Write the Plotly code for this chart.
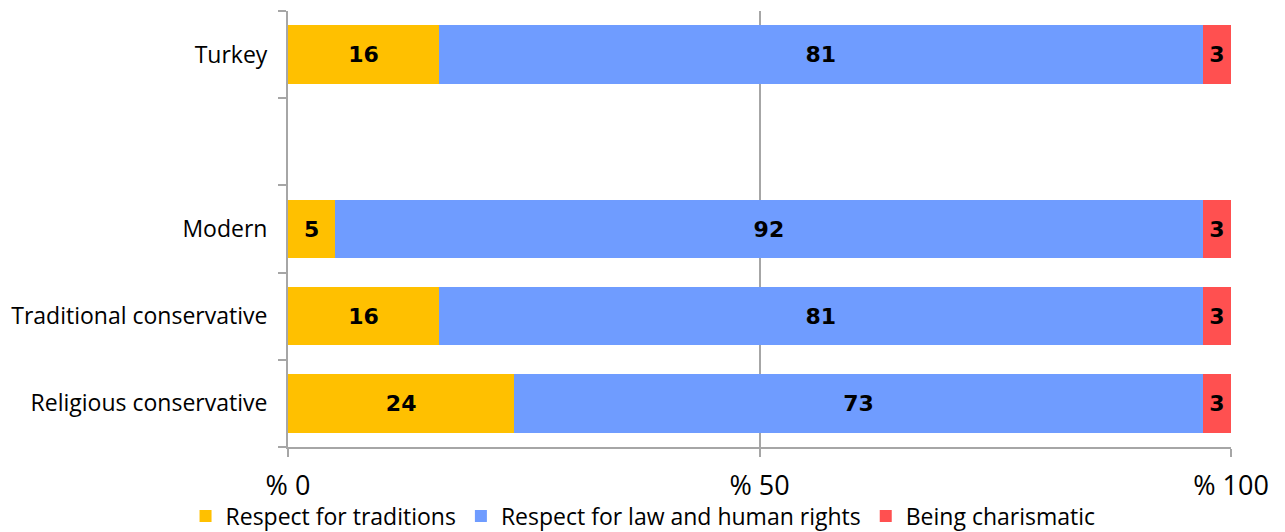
import plotly.graph_objects as go

# Survey groups, top to bottom (blank slot separates the overall row)
categories = ["Turkey", " ", "Modern", "Traditional conservative", "Religious conservative"]
groups = ["Turkey", "Modern", "Traditional conservative", "Religious conservative"]

traditions = [16, 5, 16, 24]
law_rights = [81, 92, 81, 73]
charismatic = [3, 3, 3, 3]

series = [
    ("Respect for traditions", traditions, "#FFC000"),
    ("Respect for law and human rights", law_rights, "#6F9CFF"),
    ("Being charismatic", charismatic, "#FF5050"),
]

x_tick_vals = [0, 50, 100]
x_tick_text = ["% 0", "% 50", "% 100"]

fig = go.Figure()
for name, vals, color in series:
    fig.add_trace(go.Bar(
        name=name,
        y=groups,
        x=vals,
        orientation="h",
        marker=dict(color=color, line=dict(width=0)),
        text=vals,
        texttemplate="%{x}",
        textposition="inside",
        insidetextanchor="middle",
        constraintext="none",
        textfont=dict(family="DejaVu Sans", size=22, color="black", weight="bold"),
        cliponaxis=False,
    ))

grid = "#A6A6A6"
fig.update_layout(
    barmode="stack",
    bargap=0.33,
    width=1285,
    height=532,
    margin=dict(l=288, r=54, t=11, b=85, autoexpand=False),
    paper_bgcolor="white",
    plot_bgcolor="white",
    font=dict(family="Open Sans", color="black"),
    uniformtext=dict(mode=False),
    legend=dict(
        orientation="h",
        traceorder="normal",
        x=0.3765, xanchor="center",
        y=-0.109, yanchor="top",
        font=dict(size=23, family="Open Sans"),
        itemwidth=30,
    ),
    xaxis=dict(
        range=[0, 100],
        tickvals=x_tick_vals,
        ticktext=x_tick_text,
        automargin=False,
        showgrid=True,
        gridcolor=grid,
        gridwidth=2,
        zeroline=False,
        showline=True,
        linecolor=grid,
        linewidth=2,
        ticks="outside",
        ticklen=8,
        tickcolor=grid,
        tickwidth=2,
        ticklabelstandoff=6,
        tickfont=dict(size=27, family="Open Sans"),
    ),
    yaxis=dict(
        type="category",
        categoryorder="array",
        categoryarray=categories[::-1],
        range=[-0.5, 4.5],
        automargin=False,
        tickson="boundaries",
        ticks="outside",
        ticklen=8,
        tickcolor=grid,
        tickwidth=2,
        showline=True,
        linecolor=grid,
        linewidth=2,
        showgrid=False,
        tickfont=dict(size=23, family="Open Sans"),
        ticklabelstandoff=14,
    ),
)

fig.write_html("out.html")
